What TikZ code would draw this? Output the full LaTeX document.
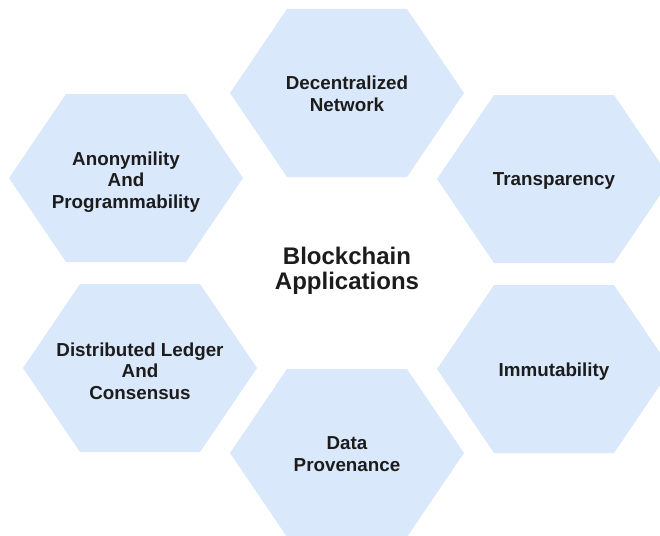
\documentclass[tikz,border=0pt]{standalone}
\usepackage{fontspec}
\setmainfont{Liberation Sans}
\definecolor{hexblue}{HTML}{DAE8FC}
\definecolor{ink}{HTML}{1C1C1C}
\tikzset{
  hexfill/.style={fill=hexblue},
  hextext/.style={align=center, text=ink, font=\bfseries\fontsize{18.8}{21.5}\selectfont},
  titletext/.style={align=center, text=ink, font=\bfseries\fontsize{24}{24.5}\selectfont},
}
\newcommand\hexcell[5][1]{%
  \begin{scope}[shift={(#3,#4)}]
    \fill[hexfill] (-117,0) -- (-60,-84) -- (60,-84) -- (117,0) -- (60,84) -- (-60,84) -- cycle;
    \node[hextext] (#2) at (0,#1) {#5};
  \end{scope}}
\begin{document}
\begin{tikzpicture}[x=1pt,y=-1pt]
  \useasboundingbox (0,0) rectangle (660,535);
  \begin{scope}
    \clip (0,0) rectangle (660,535);
    \hexcell{dec}{347}{93}{Decentralized\\Network}
    \hexcell[4]{ano}{126}{178}{Anonymility\\And\\Programmability}
    \hexcell[2]{tra}{554}{179}{Transparency}
    \hexcell[3]{dis}{140}{368}{Distributed Ledger\\And\\Consensus}
    \hexcell[3]{imm}{554}{369}{Immutability}
    \hexcell{dat}{347}{453}{Data\\Provenance}
  \end{scope}
  \node[titletext] (title) at (347,271) {Blockchain\\Applications};
\end{tikzpicture}
\end{document}
